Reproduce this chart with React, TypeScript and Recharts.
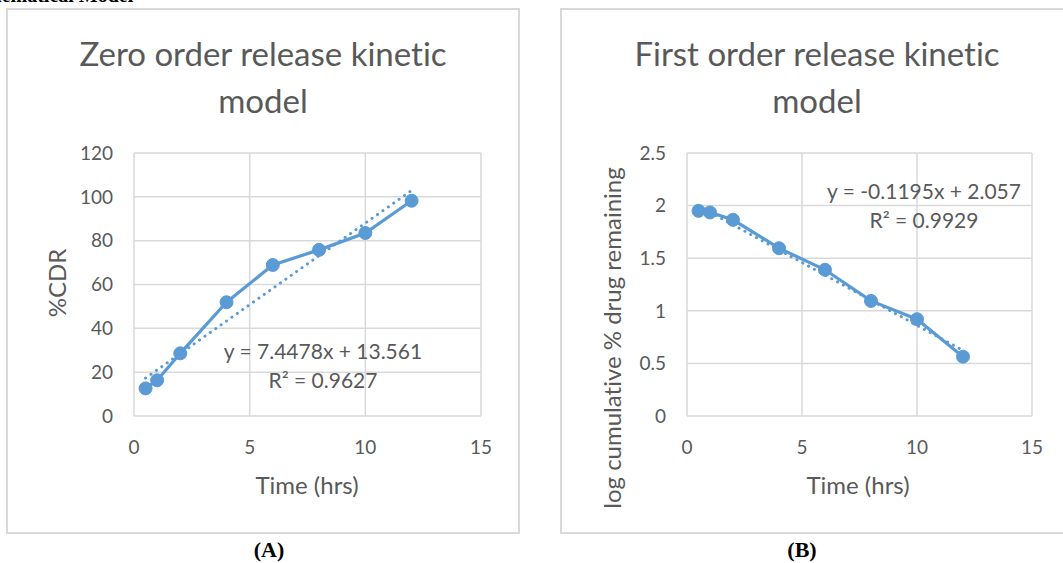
import React from 'react';
import { LineChart, Line, XAxis, YAxis, CartesianGrid } from 'recharts';

// ---- Data ----
const timeHrs = [0.5, 1, 2, 4, 6, 8, 10, 12];
const cdrValues = [12.6, 16.3, 28.6, 51.9, 68.9, 75.8, 83.5, 98.2];
const logRemaining = [1.95, 1.935, 1.865, 1.595, 1.39, 1.094, 0.92, 0.564];

const zeroTrendX = [0.5, 12];
const zeroTrendY = [17.3, 102.9];
const firstTrendX = [0.5, 12];
const firstTrendY = [1.997, 0.623];

const xTicks = [0, 5, 10, 15];
const zeroYTicks = [0, 20, 40, 60, 80, 100, 120];
const firstYTicks = [0, 0.5, 1, 1.5, 2, 2.5];

const zeroTitle = ['Zero order release kinetic', 'model'];
const firstTitle = ['First order release kinetic', 'model'];
const zeroEq = ['y = 7.4478x + 13.561', 'R² = 0.9627'];
const firstEq = ['y = -0.1195x + 2.057', 'R² = 0.9929'];

const zeroData = timeHrs.map((x, i) => ({ x, y: cdrValues[i] }));
const firstData = timeHrs.map((x, i) => ({ x, y: logRemaining[i] }));
const zeroTrend = zeroTrendX.map((x, i) => ({ x, y: zeroTrendY[i] }));
const firstTrend = firstTrendX.map((x, i) => ({ x, y: firstTrendY[i] }));

const BLUE = '#5B9BD5';
const GRAY = '#595959';
const GRID = '#d9d9d9';
const FONT = 'Lato, "Open Sans", sans-serif';

const abs = (s: React.CSSProperties): React.CSSProperties => ({
  position: 'absolute',
  fontVariantLigatures: 'none',
  ...s,
});

function Dot(props: any) {
  const { cx, cy } = props;
  if (cx == null || cy == null) return null;
  return <circle cx={cx} cy={cy} r={6.5} fill={BLUE} stroke={BLUE} strokeWidth={1} />;
}

function Panel(props: {
  left: number;
  width: number;
  yAxisW: number;
  marginRight: number;
  data: { x: number; y: number }[];
  trend: { x: number; y: number }[];
  yTicks: number[];
  yDomain: [number, number];
}) {
  const { left, width, yAxisW, marginRight, data, trend, yTicks, yDomain } = props;
  const height = 460;
  // plot area: top 153, bottom 416
  return (
    <div style={abs({ left, top: 0 })}>
      <LineChart
        width={width}
        height={height}
        margin={{ top: 153, right: marginRight, bottom: 0, left: 0 }}
      >
        <CartesianGrid stroke={GRID} strokeWidth={1.5} />
        <XAxis
          type="number"
          dataKey="x"
          domain={[0, 15]}
          ticks={xTicks}
          axisLine={false}
          tickLine={false}
          tickMargin={19}
          height={height - 153 - 263}
          tick={{ fill: GRAY, fontSize: 19, fontFamily: FONT }}
          allowDataOverflow
        />
        <YAxis
          type="number"
          dataKey="y"
          domain={yDomain}
          ticks={yTicks}
          axisLine={false}
          tickLine={false}
          tickMargin={15}
          width={yAxisW}
          tick={{ fill: GRAY, fontSize: 19, fontFamily: FONT }}
          allowDataOverflow
        />
        <Line
          data={trend}
          dataKey="y"
          stroke={BLUE}
          strokeWidth={3}
          strokeDasharray="0.1 6.5"
          strokeLinecap="round"
          dot={false}
          activeDot={false}
          isAnimationActive={false}
        />
        <Line
          data={data}
          dataKey="y"
          stroke={BLUE}
          strokeWidth={3.2}
          dot={<Dot />}
          activeDot={false}
          isAnimationActive={false}
        />
      </LineChart>
    </div>
  );
}

const titleStyle = (cx: number, top: number): React.CSSProperties =>
  abs({
    left: cx - 260,
    width: 520,
    top,
    textAlign: 'center',
    fontFamily: FONT,
    fontSize: 33,
    color: GRAY,
    lineHeight: '47px',
    whiteSpace: 'nowrap',
  });

const eqStyle = (cx: number, top: number): React.CSSProperties =>
  abs({
    left: cx - 150,
    width: 300,
    top,
    textAlign: 'center',
    fontFamily: FONT,
    fontSize: 21,
    color: GRAY,
    lineHeight: '29px',
    whiteSpace: 'nowrap',
  });

const axisTitle = (cx: number, cy: number, rotate: boolean): React.CSSProperties =>
  abs({
    left: cx - 200,
    top: cy - 15,
    width: 400,
    height: 30,
    lineHeight: '30px',
    textAlign: 'center',
    fontFamily: FONT,
    fontSize: 24,
    color: GRAY,
    whiteSpace: 'nowrap',
    transform: rotate ? 'rotate(-90deg)' : undefined,
  });

const captionStyle = (cx: number, cy: number): React.CSSProperties =>
  abs({
    left: cx - 50,
    width: 100,
    top: cy - 10,
    textAlign: 'center',
    fontFamily: '"Liberation Serif", "Times New Roman", serif',
    fontWeight: 'bold',
    fontSize: 22,
    lineHeight: '20px',
    color: '#000',
  });

export default function App() {
  return (
    <div
      style={abs({
        left: 0,
        top: 0,
        width: 1063,
        height: 563,
        background: '#fff',
        overflow: 'hidden',
      })}
    >
      {/* cut-off heading at top (only its lower edge shows, as in the source) */}
      <div
        style={abs({
          left: -45,
          top: -15,
          fontFamily: '"Liberation Serif", "Times New Roman", serif',
          fontWeight: 'bold',
          fontSize: 20,
          lineHeight: '20px',
          color: '#000',
          whiteSpace: 'nowrap',
        })}
      >
        Mathematical Model
      </div>

      {/* panel borders */}
      <div style={abs({ left: 6, top: 8, width: 514, height: 526, border: `2px solid ${GRID}`, boxSizing: 'border-box' })} />
      <div style={abs({ left: 560, top: 8, width: 510, height: 526, border: `2px solid ${GRID}`, boxSizing: 'border-box' })} />

      {/* Panel A */}
      <Panel
        left={0}
        width={520}
        yAxisW={134}
        marginRight={39}
        data={zeroData}
        trend={zeroTrend}
        yTicks={zeroYTicks}
        yDomain={[0, 120]}
      />
      <div style={titleStyle(263, 30)}>
        {zeroTitle[0]}
        <br />
        {zeroTitle[1]}
      </div>
      <div style={eqStyle(323, 336)}>
        {zeroEq[0]}
        <br />
        {zeroEq[1]}
      </div>
      <div style={axisTitle(307, 485, false)}>Time (hrs)</div>
      <div style={axisTitle(57, 283, true)}>%CDR</div>
      <div style={captionStyle(269, 550)}>(A)</div>

      {/* Panel B */}
      <Panel
        left={540}
        width={523}
        yAxisW={147}
        marginRight={31}
        data={firstData}
        trend={firstTrend}
        yTicks={firstYTicks}
        yDomain={[0, 2.5]}
      />
      <div style={titleStyle(817, 30)}>
        {firstTitle[0]}
        <br />
        {firstTitle[1]}
      </div>
      <div style={eqStyle(924, 176)}>
        {firstEq[0]}
        <br />
        {firstEq[1]}
      </div>
      <div style={axisTitle(858, 485, false)}>Time (hrs)</div>
      <div style={axisTitle(612, 338, true)}>log cumulative % drug remaining</div>
      <div style={captionStyle(802, 550)}>(B)</div>
    </div>
  );
}
